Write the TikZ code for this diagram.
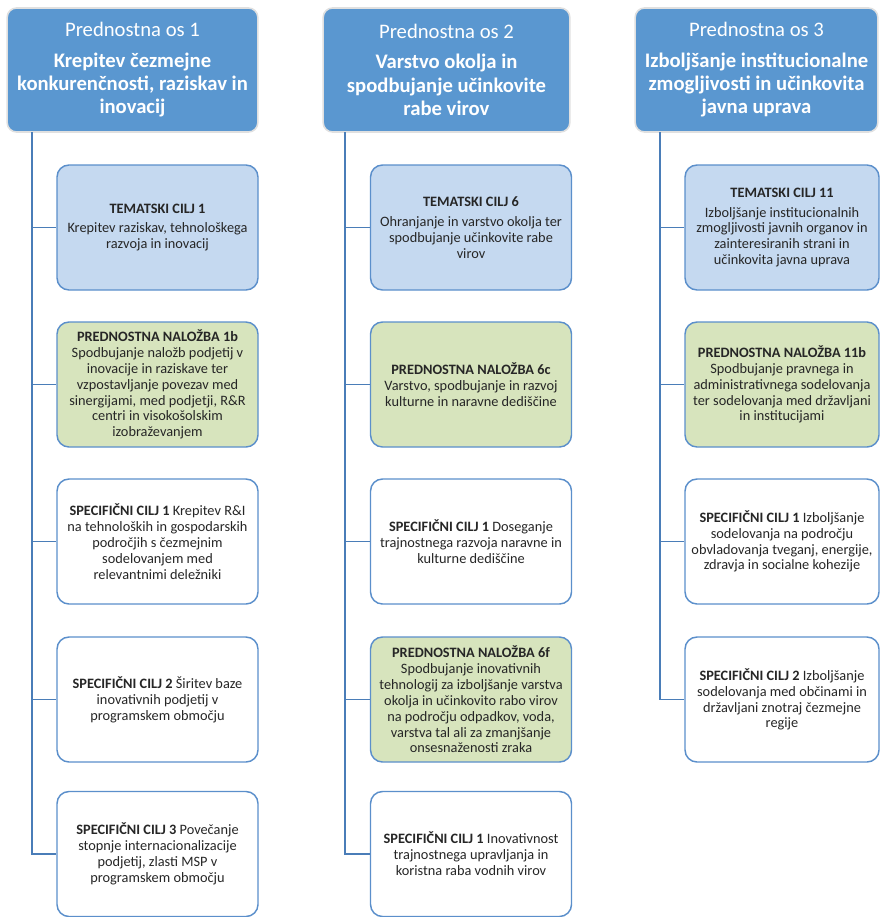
\documentclass[tikz,border=0pt]{standalone}
\usepackage{fontspec}
\setmainfont{Carlito}
\usetikzlibrary{positioning}
\definecolor{osblue}{HTML}{5A97D0}
\definecolor{ciljblue}{HTML}{C5D9F0}
\definecolor{nalgreen}{HTML}{D7E4BD}
\definecolor{rob}{HTML}{5B8FCB}
\definecolor{vejacol}{HTML}{4A7DB8}
\definecolor{besedilo}{HTML}{262626}
\tikzset{
os node/.style={rectangle,rounded corners=7pt,fill=osblue,draw=black!12,line width=1.2pt,text=white,align=center,font=\fontsize{15.5}{17.6}\selectfont,minimum height=93pt,inner sep=2pt},
box node/.style={rectangle,rounded corners=9pt,draw=rob,line width=1.1pt,text=besedilo,align=center,font=\fontsize{10.75}{11.9}\selectfont,minimum width=150.75pt,minimum height=93.75pt,inner sep=2pt},
cilj node/.style={box node,fill=ciljblue},
nalozba node/.style={box node,fill=nalgreen},
spec node/.style={box node,fill=white},
veja/.style={draw=vejacol,line width=1.1pt}}

\begin{document}
\begin{tikzpicture}[x=0.75pt,y=-0.75pt]
\useasboundingbox (0,0) rectangle (880,917);

% prednostne osi
\node[os node,minimum width=188pt] (o1) at (132.5,70) {Prednostna os 1\\[5pt]\textbf{Krepitev čezmejne}\\\textbf{konkurenčnosti, raziskav in}\\\textbf{inovacij}};
\node[os node,minimum width=185pt] (o2) at (446.5,70) {Prednostna os 2\\[5pt]\textbf{Varstvo okolja in}\\\textbf{spodbujanje učinkovite}\\\textbf{rabe virov}};
\node[os node,minimum width=182pt] (o3) at (756.5,70) {Prednostna os 3\\[5pt]\textbf{Izboljšanje institucionalne}\\\textbf{zmogljivosti in učinkovita}\\\textbf{javna uprava}};

% os 1
\node[cilj node] (t1) at (157.5,227.5) {\textbf{TEMATSKI CILJ 1}\\[3pt]Krepitev raziskav, tehnološkega\\razvoja in inovacij};
\node[nalozba node] (n1) at (157.5,384.5) {\textbf{PREDNOSTNA NALOŽBA 1b}\\Spodbujanje naložb podjetij v\\inovacije in raziskave ter\\vzpostavljanje povezav med\\sinergijami, med podjetji, R\&R\\centri in visokošolskim\\izobraževanjem};
\node[spec node] (s11) at (157.5,541.5) {\textbf{SPECIFIČNI CILJ 1} Krepitev R\&I\\na tehnoloških in gospodarskih\\področjih s čezmejnim\\sodelovanjem med\\relevantnimi deležniki};
\node[spec node] (s12) at (157.5,699.5) {\textbf{SPECIFIČNI CILJ 2} Širitev baze\\inovativnih podjetij v\\programskem območju};
\node[spec node] (s13) at (157.5,854) {\textbf{SPECIFIČNI CILJ 3} Povečanje\\stopnje internacionalizacije\\podjetij, zlasti MSP v\\programskem območju};

% os 2
\node[cilj node] (t2) at (471,227.5) {\textbf{TEMATSKI CILJ 6}\\[3pt]Ohranjanje in varstvo okolja ter\\spodbujanje učinkovite rabe\\virov};
\node[nalozba node] (n2) at (471,384.5) {\textbf{PREDNOSTNA NALOŽBA 6c}\\Varstvo, spodbujanje in razvoj\\kulturne in naravne dediščine};
\node[spec node] (s21) at (471,541.5) {\textbf{SPECIFIČNI CILJ 1} Doseganje\\trajnostnega razvoja naravne in\\kulturne dediščine};
\node[nalozba node] (n22) at (471,699.5) {\textbf{PREDNOSTNA NALOŽBA 6f}\\Spodbujanje inovativnih\\tehnologij za izboljšanje varstva\\okolja in učinkovito rabo virov\\na področju odpadkov, voda,\\varstva tal ali za zmanjšanje\\onsesnaženosti zraka};
\node[spec node] (s22) at (471,854) {\textbf{SPECIFIČNI CILJ 1} Inovativnost\\trajnostnega upravljanja in\\koristna raba vodnih virov};

% os 3
\node[cilj node,minimum width=145.5pt] (t3) at (782,227.5) {\textbf{TEMATSKI CILJ 11}\\[3pt]Izboljšanje institucionalnih\\zmogljivosti javnih organov in\\zainteresiranih strani in\\učinkovita javna uprava};
\node[nalozba node,minimum width=145.5pt] (n3) at (782,384.5) {\textbf{PREDNOSTNA NALOŽBA 11b}\\Spodbujanje pravnega in\\administrativnega sodelovanja\\ter sodelovanja med državljani\\in institucijami};
\node[spec node,minimum width=145.5pt] (s31) at (782,541.5) {\textbf{SPECIFIČNI CILJ 1} Izboljšanje\\sodelovanja na področju\\obvladovanja tveganj, energije,\\zdravja in socialne kohezije};
\node[spec node,minimum width=145.5pt] (s32) at (782,699.5) {\textbf{SPECIFIČNI CILJ 2} Izboljšanje\\sodelovanja med občinami in\\državljani znotraj čezmejne\\regije};

% veje
\coordinate (r1) at (32,132);
\coordinate (r2) at (345,132);
\coordinate (r3) at (660,132);

\draw[veja] (r1) |- (t1.west);
\draw[veja] (r1) |- (n1.west);
\draw[veja] (r1) |- (s11.west);
\draw[veja] (r1) |- (s12.west);
\draw[veja] (r1) |- (s13.west);

\draw[veja] (r2) |- (t2.west);
\draw[veja] (r2) |- (n2.west);
\draw[veja] (r2) |- (s21.west);
\draw[veja] (r2) |- (n22.west);
\draw[veja] (r2) |- (s22.west);

\draw[veja] (r3) |- (t3.west);
\draw[veja] (r3) |- (n3.west);
\draw[veja] (r3) |- (s31.west);
\draw[veja] (r3) |- (s32.west);

\end{tikzpicture}
\end{document}
